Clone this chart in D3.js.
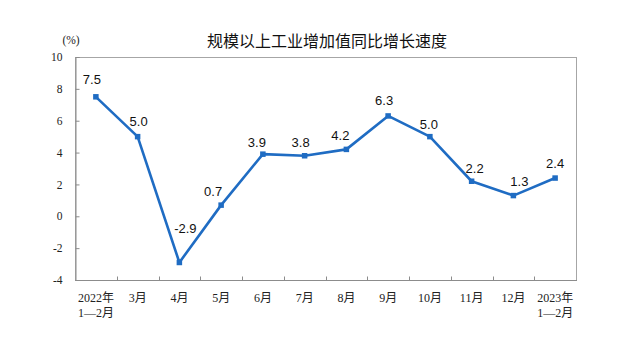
<!DOCTYPE html>
<html>
<head>
<meta charset="utf-8">
<script src="https://cdn.jsdelivr.net/npm/d3@7"></script>
<style>
  html, body { margin: 0; padding: 0; background: #fff; }
  svg { display: block; }
</style>
</head>
<body>
<svg id="chart" width="619" height="338"></svg>
<script>
// Monthly year-on-year growth of industrial value added (%)
const categories = ["2022年\n1—2月", "3月", "4月", "5月", "6月", "7月", "8月", "9月", "10月", "11月", "12月", "2023年\n1—2月"];
const growth = [7.5, 5.0, -2.9, 0.7, 3.9, 3.8, 4.2, 6.3, 5.0, 2.2, 1.3, 2.4];
const yTicks = [-4, -2, 0, 2, 4, 6, 8, 10];
const title = "规模以上工业增加值同比增长速度";
const unit = "(%)";

// label nudges (dx, dy) relative to each point
const labelOffsets = [[-4, -18], [1, -16], [6, -34], [-8, -14], [-6, -12], [-4, -14],
                      [-6, -14], [-4, -16], [-1, -13], [3, -13], [6, -15], [0, -15]];

const svg = d3.select("#chart");
const plotL = 75, plotR = 576, plotT = 57, plotB = 280;
const lineColor = "#1f6cc3";
const serif = "'Liberation Serif', 'Times New Roman', 'Noto Sans CJK SC', serif";

const x = d3.scaleBand().domain(categories).range([plotL, plotR]).paddingInner(0).paddingOuter(0);
const y = d3.scaleLinear().domain([-4, 10]).range([plotB, plotT]);
const cx = c => x(c) + x.bandwidth() / 2;

// frame
svg.append("rect")
  .attr("x", plotL + 0.5).attr("y", plotT + 0.5)
  .attr("width", plotR - plotL).attr("height", plotB - plotT)
  .attr("fill", "none").attr("stroke", "#a6a6a6").attr("stroke-width", 1);

// y axis (plain hyphen for negatives)
const yAxis = svg.append("g").attr("transform", `translate(${plotL + 0.5},0)`)
  .call(d3.axisLeft(y).tickValues(yTicks).tickSize(-4).tickPadding(13).tickFormat(d => String(d)));
yAxis.select(".domain").attr("stroke", "#8c8c8c");
yAxis.selectAll(".tick line").attr("stroke", "#8c8c8c");
yAxis.selectAll("text").attr("font-family", serif).attr("font-size", 11.5).attr("fill", "#222");

// x axis: category ticks sit on band boundaries
const xAxis = svg.append("g").attr("transform", `translate(0,${plotB + 0.5})`);
xAxis.append("line").attr("x1", plotL).attr("x2", plotR + 1).attr("stroke", "#8c8c8c");
xAxis.selectAll("line.tk").data(categories.slice(1)).join("line")
  .attr("class", "tk")
  .attr("x1", d => Math.round(x(d)) + 0.5).attr("x2", d => Math.round(x(d)) + 0.5)
  .attr("y1", 0).attr("y2", -4).attr("stroke", "#8c8c8c");
const xl = xAxis.selectAll("text").data(categories).join("text")
  .attr("text-anchor", "middle")
  .attr("font-family", serif).attr("font-size", 12).attr("fill", "#222")
  .attr("transform", d => `translate(${cx(d)},21)`);
xl.selectAll("tspan").data(d => d.split("\n")).join("tspan")
  .attr("x", 0).attr("dy", (d, i) => i === 0 ? 0 : 15).text(d => d);

// title and unit
svg.append("text").attr("x", 327).attr("y", 47).attr("text-anchor", "middle")
  .attr("font-family", "'Noto Sans CJK SC', sans-serif").attr("font-size", 16).attr("fill", "#111")
  .text(title);
svg.append("text").attr("x", 71).attr("y", 44).attr("text-anchor", "middle")
  .attr("font-family", serif).attr("font-size", 11.5).attr("fill", "#222").text(unit);

// series line
const pts = categories.map((c, i) => ({ c, v: growth[i], i }));
svg.append("path").datum(pts)
  .attr("fill", "none").attr("stroke", lineColor).attr("stroke-width", 2.6)
  .attr("stroke-linejoin", "round")
  .attr("d", d3.line().x(d => cx(d.c)).y(d => y(d.v)));

svg.selectAll("rect.mk").data(pts).join("rect").attr("class", "mk")
  .attr("x", d => cx(d.c) - 2.75).attr("y", d => y(d.v) - 2.75)
  .attr("width", 5.5).attr("height", 5.5).attr("fill", lineColor);

// value labels
svg.selectAll("text.val").data(pts).join("text").attr("class", "val")
  .attr("x", d => cx(d.c) + labelOffsets[d.i][0])
  .attr("y", d => y(d.v) + labelOffsets[d.i][1] + 5)
  .attr("text-anchor", "middle")
  .attr("font-family", "'Liberation Sans', Arial, sans-serif").attr("font-size", 13).attr("fill", "#111")
  .text(d => d.v.toFixed(1));
</script>
</body>
</html>
